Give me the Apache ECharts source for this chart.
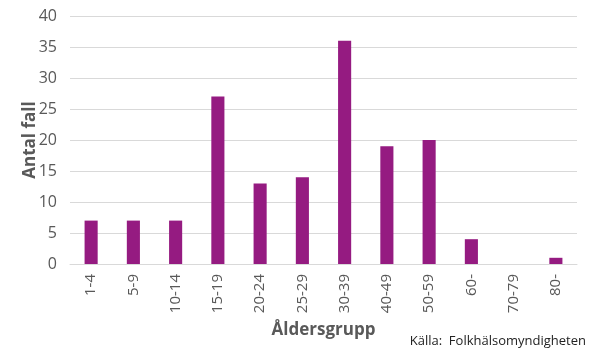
<!DOCTYPE html>
<html>
<head>
<meta charset="utf-8">
<script src="https://cdn.jsdelivr.net/npm/echarts@6/dist/echarts.min.js"></script>
<style>
  html, body { margin: 0; padding: 0; background: #fff; }
  #chart { width: 590px; height: 354px; }
</style>
</head>
<body>
<div id="chart"></div>
<script>
var categories = ['1-4', '5-9', '10-14', '15-19', '20-24', '25-29', '30-39', '40-49', '50-59', '60-', '70-79', '80-'];
var cases = [7, 7, 7, 27, 13, 14, 36, 19, 20, 4, 0, 1];
var yTicks = { min: 0, max: 40, interval: 5 };

var myChart = echarts.init(document.getElementById('chart'));

var labelFont = 'Open Sans';

var option = {
    animation: false,
    grid: { left: 70, right: 13, top: 16, bottom: 90 },
    graphic: [{
        type: 'text',
        right: 4,
        top: 335,
        style: {
            text: 'Källa:  Folkhälsomyndigheten',
            font: '13px "Open Sans"',
            fill: '#222'
        }
    }],
    xAxis: {
        type: 'category',
        data: categories,
        name: 'Åldersgrupp',
        nameLocation: 'middle',
        nameGap: 58,
        nameMoveOverlap: false,
        nameTextStyle: { fontFamily: labelFont, fontWeight: 'bold', fontSize: 17, color: '#595959' },
        axisLine: { lineStyle: { color: '#d9d9d9' } },
        axisTick: { show: false },
        axisLabel: { rotate: 90, margin: 10, interval: 0, fontFamily: labelFont, fontSize: 15, color: '#595959' }
    },
    yAxis: {
        type: 'value',
        min: yTicks.min,
        max: yTicks.max,
        interval: yTicks.interval,
        name: 'Antal fall',
        nameLocation: 'middle',
        nameGap: 31,
        nameMoveOverlap: false,
        nameTextStyle: { fontFamily: labelFont, fontWeight: 'bold', fontSize: 17, color: '#595959' },
        axisLine: { show: false },
        axisTick: { show: false },
        axisLabel: { margin: 13, fontFamily: labelFont, fontSize: 16, color: '#595959' },
        splitLine: { lineStyle: { color: '#d9d9d9' } }
    },
    series: [{
        name: 'Antal fall',
        type: 'bar',
        data: cases,
        barWidth: '31%',
        itemStyle: { color: '#951b81' }
    }]
};

myChart.setOption(option);
</script>
</body>
</html>
